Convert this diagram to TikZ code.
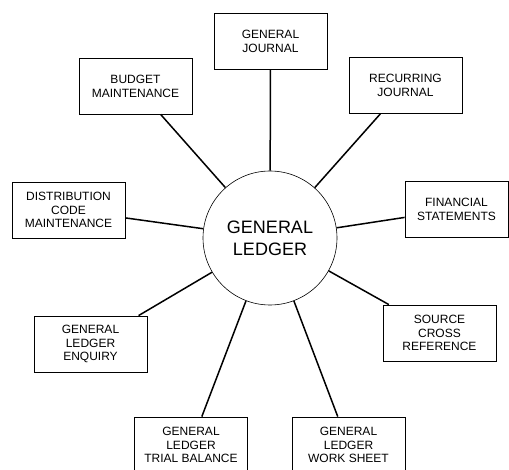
\documentclass[tikz,border=0pt]{standalone}
\usepackage{fontspec}
\setmainfont{Liberation Sans}

\begin{document}
\begin{tikzpicture}[x=1pt, y=-1pt,
    box/.style={draw, line width=0.8pt, minimum width=113pt, minimum height=56pt,
        inner sep=0pt, align=center, font=\fontsize{12}{13.8}\selectfont},
    link/.style={line width=1.5pt}]
    \useasboundingbox (0,0) rectangle (509,470);
    % centre
    \node[draw, circle, line width=0.6pt, minimum size=134pt, inner sep=0pt,
        align=center, font=\fontsize{18}{22}\selectfont] (GL) at (270,238) {GENERAL\\LEDGER};
    % programs around it
    \node[box] (GJ) at (270.5,41) {GENERAL\\JOURNAL};
    \node[box] (RJ) at (405.5,85.5) {RECURRING\\JOURNAL};
    \node[box, minimum width=103pt] (FS) at (456.5,209.5) {FINANCIAL\\STATEMENTS};
    \node[box] (SCR) at (439.5,333) {SOURCE\\CROSS\\REFERENCE};
    \node[box] (WS) at (348.5,445) {GENERAL\\LEDGER\\WORK SHEET};
    \node[box] (TB) at (191,445) {GENERAL\\LEDGER\\TRIAL BALANCE};
    \node[box] (ENQ) at (90.5,344) {GENERAL\\LEDGER\\ENQUIRY};
    \node[box] (DCM) at (68.5,210) {DISTRIBUTION\\CODE\\MAINTENANCE};
    \node[box] (BM) at (135.5,86) {BUDGET\\MAINTENANCE};
    \foreach \p in {GJ,RJ,FS,SCR,WS,TB,ENQ,DCM,BM}
        \draw[link] (GL) -- (\p);
\end{tikzpicture}
\end{document}
